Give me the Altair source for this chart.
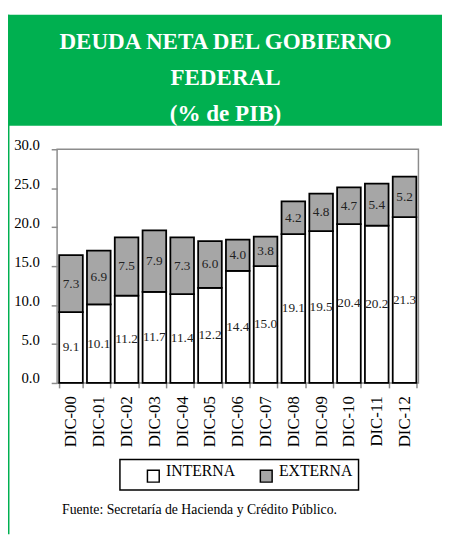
import altair as alt
import pandas as pd

# ---- data ----
anios = ["DIC-00", "DIC-01", "DIC-02", "DIC-03", "DIC-04", "DIC-05", "DIC-06",
         "DIC-07", "DIC-08", "DIC-09", "DIC-10", "DIC-11", "DIC-12"]
interna = [9.1, 10.1, 11.2, 11.7, 11.4, 12.2, 14.4, 15.0, 19.1, 19.5, 20.4, 20.2, 21.3]
externa = [7.3, 6.9, 7.5, 7.9, 7.3, 6.0, 4.0, 3.8, 4.2, 4.8, 4.7, 5.4, 5.2]
series = ["INTERNA", "EXTERNA"]
colores = ["#ffffff", "#a6a6a6"]
y_ticks = [0, 5, 10, 15, 20, 25, 30]
titulo = ["DEUDA NETA DEL GOBIERNO", "FEDERAL", "(% de PIB)"]
fuente = "Fuente: Secretaría de Hacienda y Crédito Público."

rows = []
for a, i, e in zip(anios, interna, externa):
    rows.append({"Año": a, "Tipo": series[0], "Valor": i, "orden": 0})
    rows.append({"Año": a, "Tipo": series[1], "Valor": e, "orden": 1})
df = pd.DataFrame(rows)

FONT = "Liberation Serif"
GREEN = "#00b050"

xaxis = alt.Axis(labelAngle=-90, labelFont=FONT, labelFontSize=17,
                 labelColor="#000000", tickBand="extent", tickSize=5,
                 tickColor="#8c8c8c", tickWidth=1.5, domain=False,
                 labelPadding=8, title=None)
yaxis = alt.Axis(values=y_ticks, format=".1f", labelFont=FONT,
                 labelFontSize=15, labelColor="#000000", tickSize=6,
                 tickColor="#8c8c8c", tickWidth=1.5, domain=False,
                 grid=False, labelPadding=12, labelOffset=-5,
                 labelOverlap=False, labelFlush=False, title=None)
xscale = alt.Scale(paddingInner=0.15, paddingOuter=0.075)
yscale = alt.Scale(domain=[0, 30], nice=False)

bars = alt.Chart(df).mark_bar(stroke="black", strokeWidth=1.8, opacity=1).encode(
    x=alt.X("Año:N", sort=anios, scale=xscale, axis=xaxis),
    y=alt.Y("Valor:Q", stack="zero", scale=yscale, axis=yaxis),
    color=alt.Color("Tipo:N", sort=series,
                    scale=alt.Scale(domain=series, range=colores),
                    legend=alt.Legend(orient="none", legendX=90, legendY=325,
                                      direction="horizontal", title=None,
                                      symbolType="square", symbolSize=144,
                                      symbolStrokeColor="black",
                                      symbolStrokeWidth=1.5, symbolOpacity=1,
                                      labelFont=FONT, labelFontSize=16,
                                      labelColor="#000000", labelOffset=5,
                                      columnPadding=22, padding=0,
                                      labelBaseline="alphabetic")),
    order=alt.Order("orden:Q"),
)

labels = alt.Chart(df).transform_stack(
    stack="Valor", groupby=["Año"], as_=["v0", "v1"],
    sort=[alt.SortField("orden")]
).transform_calculate(mid="(datum.v0 + datum.v1) / 2").mark_text(
    font=FONT, fontSize=13.5, color="#222222", baseline="middle", align="center"
).encode(
    x=alt.X("Año:N", sort=anios, scale=xscale, axis=xaxis),
    y=alt.Y("mid:Q", scale=yscale, axis=yaxis),
    text=alt.Text("Valor:Q", format=".1f"),
)

one = pd.DataFrame({"k": [0]})

band = alt.Chart(one).mark_rect(color=GREEN).encode(
    x=alt.value(-50), x2=alt.value(392), y=alt.value(-137), y2=alt.value(-24))
side = alt.Chart(one).mark_rule(color=GREEN, strokeWidth=2).encode(
    x=alt.value(-49.5), y=alt.value(-137), y2=alt.value(392))
title = alt.Chart(one).mark_text(
    font=FONT, fontSize=23.5, fontWeight="bold", color="white", align="center",
    baseline="alphabetic", lineHeight=36.5
).encode(x=alt.value(171.5), y=alt.value(-102), text=alt.value(titulo))
legbox = alt.Chart(one).mark_rect(fill="white", stroke="black", strokeWidth=1.5).encode(
    x=alt.value(64), x2=alt.value(307), y=alt.value(316), y2=alt.value(347))
foot = alt.Chart(one).mark_text(
    font=FONT, fontSize=14, color="#000000", align="left", baseline="alphabetic"
).encode(x=alt.value(5), y=alt.value(371), text=alt.value(fuente))

chart = alt.layer(band, side, title, legbox, foot, bars, labels).properties(
    width=368, height=238,
    padding={"left": 50, "top": 139, "right": 24, "bottom": 152},
    autosize=alt.AutoSizeParams(type="none"),
    background="white",
).configure_view(stroke="#8c8c8c", strokeWidth=1.5)

chart.save("out.html", embed_options={"renderer": "svg", "actions": False})
